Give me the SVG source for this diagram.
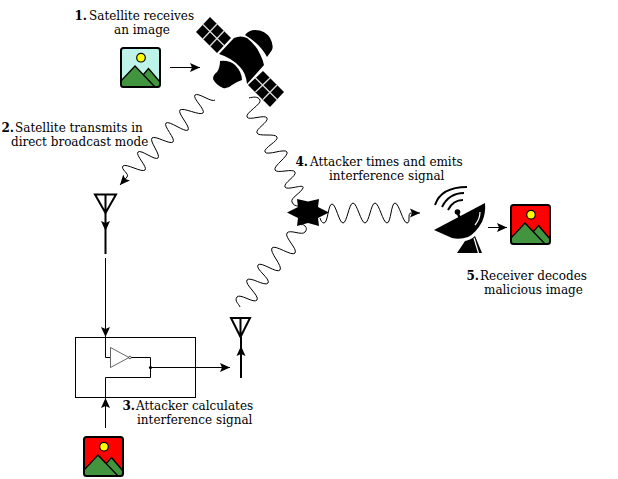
<svg xmlns="http://www.w3.org/2000/svg" xmlns:xlink="http://www.w3.org/1999/xlink" width="618" height="479" viewBox="0 0 618 479">
<style>
text{font-family:"DejaVu Serif","Liberation Serif",serif;font-size:12px;fill:#000}
.b{font-weight:bold}
.w{fill:none;stroke:#000;stroke-width:1}
.l{fill:none;stroke:#000;stroke-width:1}
.t{fill:none;stroke:#000;stroke-width:2}
</style>
<defs>
<marker id="a" markerUnits="userSpaceOnUse" markerWidth="12" markerHeight="12" refX="10" refY="5" orient="auto"><path d="M0,0.5L10,5L0,9.5L2,5Z" fill="#000"/></marker>
<g id="pic">
<rect x="121" y="48" width="39" height="39" rx="2.500"/>
<circle cx="141" cy="57.700" r="4.300" fill="#ff0" stroke="#000" stroke-width="1.200"/>
<path d="M121,81L135,66L143,75L148.500,68.500L160,82V87H121Z" fill="#43943f"/>
<path d="M121,81L135,66L155,87M143,75L148.500,68.500L160,82" fill="none" stroke="#000" stroke-width="1.300"/>
<rect x="121" y="48" width="39" height="39" rx="2.500" fill="none" stroke="#000" stroke-width="2"/>
</g>
</defs>

<g id="connectors">
<path class="w" marker-end="url(#a)" d="M215,100C212,103 198,92 195,95C192,98 206,110 203,113C200,116 183,107 180,110C177,113 191,127 188,130C185,133 169,120 166,123C163,126 176,139 173,142C170,145 155,135 152,138C149,141 161,155 158,158C155,161 141,149 138,152C135,155 148,167 145,170C142,173 126,163 123,166C120,169 130,174 127,177L120,185"/>
<path class="w" d="M249,98C253,97 258,96 260,100C262,104 245,113 247,117C249,121 265,114 267,118C269,122 255,129 257,133C259,137 275,133 277,137C279,141 263,148 265,152C267,156 285,148 287,152C289,156 273,166 275,170C277,174 293,168 295,172C297,176 283,183 285,187C287,191 305,183 303,188C301,193 290,198 292,202C293,205 296,206 298,206"/>
<path class="w" d="M301,225C303,223 309,228 305,232C302,236 290,229 287,233C284,237 298,249 295,253C292,257 275,244 272,248C269,252 283,266 280,270C277,274 261,261 258,265C255,269 271,279 268,283C265,287 250,276 247,280C244,284 260,296 257,300C254,304 240,293 237,297C234,301 239,304 240,307"/>
<path class="w" marker-end="url(#a)" d="M320,218C321,221 322,223 324,223C328,223 328,204 332,204C336,204 339,223 343,223C347,223 349,203 353,203C357,203 361,223 365,223C369,223 371,203 375,203C379,203 383,223 387,223C391,223 391,203 395,203C399,203 403,223 407,223C411,223 407,213 411,213L420,213"/>
<path class="l" marker-end="url(#a)" d="M170,67.500H200"/>
<path class="l" marker-end="url(#a)" d="M488,227.500H507"/>
<path class="l" marker-end="url(#a)" d="M105.500,258V337"/>
<path class="l" marker-end="url(#a)" d="M105.500,428V398"/>
<path class="l" marker-end="url(#a)" d="M150,367.500H230"/>
<path class="t" marker-end="url(#a)" d="M105.500,213V231"/>
<path class="t" marker-end="url(#a)" d="M241,378V346"/>
</g>

<g id="img1" fill="#bdf3e8"><use xlink:href="#pic" href="#pic"/></g>
<g id="img2" fill="#f00"><use xlink:href="#pic" href="#pic" x="-37" y="389"/></g>
<g id="img3" fill="#f00"><use xlink:href="#pic" href="#pic" x="390" y="157"/></g>

<g id="satellite">
<path d="M210,17L196,32L217,53L231,38Z" fill="#000"/>
<path d="M203,24.500L224,45.500M217,24L203,39M224,31L210,46" stroke="#ddd" stroke-width="1.300" fill="none"/>
<path d="M263,71L248,85L270,107L284,92Z" fill="#000"/>
<path d="M255.500,78L277,99.500M270,78L255.500,92M277,85L263,99.500" stroke="#ddd" stroke-width="1.300" fill="none"/>
<path d="M219,54L234,38Q241,35 247,38Q256,45 260,54Q263,60 264,65L247,84Q246,73 240,67Q232,58 219,54Z" fill="#000"/>
<path d="M245,35Q249,30 255,30Q265,30 270,38Q274,45 272,50L267,57Q260,44 245,35Z" fill="#000"/>
<path d="M220,61Q229,60 235,65Q242,72 242,80Q236,82 232,85Q228,89 223,88Q216,85 213,79Q213,75 217,72Q220,68 220,61Z" fill="#000"/>
</g>

<g id="jammer">
<path d="M287,212.500L298,207L297,199L308,201.500L319,199L318,207L329,212.500L318,218L319,226L308,223L297,226L298,218Z" fill="#000"/>
</g>

<g id="dish">
<path d="M434,230L485,203Q486,213 482,222Q476,233 468,237Q460,240 452,238Z" fill="#000"/>
<path d="M480,212Q480,219 475,225" fill="none" stroke="#fff" stroke-width="1.200"/>
<path d="M457,212L463,224" stroke="#000" stroke-width="2.500"/>
<circle cx="457.500" cy="212" r="2.800" fill="#000"/>
<path d="M435,205Q441,187 467,187M442,207Q449,193 464,193M448,210Q453,200 463,200" class="t"/>
<path d="M457,253L465,241Q471,240 475,236L482,253Z" fill="#000"/>
<path d="M474,238L478.500,253" stroke="#fff" stroke-width="1.200"/>
</g>

<g id="antenna1"><path class="t" d="M95,194.500H116L105.500,213ZM105.500,194.500V213M105.500,231V254"/></g>
<g id="antenna2"><path class="t" d="M231,318H250L240.500,337ZM240.500,318V337M241,337V350"/></g>

<g id="box">
<rect x="75.500" y="337.500" width="120" height="60" fill="none" stroke="#000"/>
<path class="l" d="M105.500,337V357.500H110M131,357.500H150.500V377.500H105.500V398"/>
<path d="M110.500,347.500L129,357.500L110.500,367.500Z" fill="#fff" stroke="#000" stroke-width="0.600"/>
<circle cx="130" cy="357.500" r="1.300" fill="#fff" stroke="#000" stroke-width="0.600"/>
<circle cx="150.500" cy="367.500" r="1.600" fill="#000"/>
</g>

<g id="labels">
<text x="74.500" y="20" class="b">1.</text><text x="89" y="20">Satellite receives</text>
<text x="142" y="34" text-anchor="middle">an image</text>
<text x="1.500" y="132" class="b">2.</text><text x="15" y="132">Satellite transmits in</text>
<text x="11" y="146">direct broadcast mode</text>
<text x="122.500" y="410" class="b">3.</text><text x="136" y="410">Attacker calculates</text>
<text x="137" y="424">interference signal</text>
<text x="295.500" y="166" class="b">4.</text><text x="310" y="166">Attacker times and emits</text>
<text x="329" y="180">interference signal</text>
<text x="466.500" y="280" class="b">5.</text><text x="480" y="280">Receiver decodes</text>
<text x="484" y="294">malicious image</text>
</g>
</svg>
